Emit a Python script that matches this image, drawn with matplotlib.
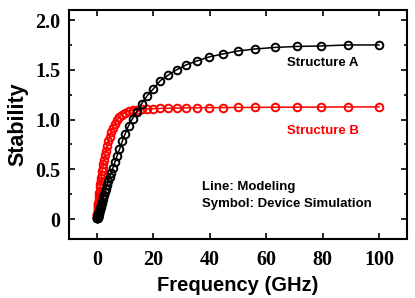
import matplotlib
matplotlib.use("Agg")
import matplotlib.pyplot as plt
from matplotlib.ticker import MultipleLocator, FixedLocator, FixedFormatter

# frequency sweep (GHz), 20 points per decade
freq = [0.100, 0.112, 0.126, 0.141, 0.158, 0.178, 0.200, 0.224, 0.251, 0.282,
        0.316, 0.355, 0.398, 0.447, 0.501, 0.562, 0.631, 0.708, 0.794, 0.891,
        1.00, 1.12, 1.26, 1.41, 1.58, 1.78, 2.00, 2.24, 2.51, 2.82,
        3.16, 3.55, 3.98, 4.47, 5.01, 5.62, 6.31, 7.08, 7.94, 8.91,
        10.0, 11.2, 12.6, 14.1, 15.8, 17.8, 20.0, 22.4, 25.1, 28.2,
        31.6, 35.5, 39.8, 44.7, 50.1, 56.2, 63.1, 70.8, 79.4, 89.1, 100.0]

# Structure A stability
stab_a = [0.010, 0.011, 0.013, 0.014, 0.016, 0.018, 0.020, 0.022, 0.025, 0.028,
          0.032, 0.035, 0.040, 0.045, 0.050, 0.056, 0.063, 0.071, 0.079, 0.089,
          0.100, 0.112, 0.125, 0.140, 0.157, 0.176, 0.197, 0.220, 0.245, 0.275,
          0.305, 0.340, 0.378, 0.420, 0.465, 0.515, 0.570, 0.635, 0.700, 0.780,
          0.860, 0.940, 1.010, 1.080, 1.160, 1.240, 1.310, 1.390, 1.445, 1.500,
          1.550, 1.590, 1.630, 1.660, 1.690, 1.710, 1.725, 1.735, 1.740, 1.750, 1.750]

# Structure B stability
stab_b = [0.033, 0.037, 0.042, 0.047, 0.052, 0.059, 0.066, 0.074, 0.083, 0.093,
          0.104, 0.117, 0.131, 0.147, 0.165, 0.185, 0.207, 0.232, 0.258, 0.287,
          0.320, 0.350, 0.380, 0.410, 0.440, 0.480, 0.515, 0.555, 0.595, 0.640,
          0.685, 0.730, 0.780, 0.830, 0.875, 0.920, 0.960, 0.995, 1.025, 1.050,
          1.070, 1.085, 1.095, 1.100, 1.105, 1.108, 1.110, 1.112, 1.114, 1.116,
          1.118, 1.119, 1.120, 1.121, 1.122, 1.123, 1.124, 1.125, 1.126, 1.127, 1.128]

xticks = [0, 20, 40, 60, 80, 100]
yticks = [0, 0.5, 1.0, 1.5, 2.0]
ytick_labels = ["0", "0.5", "1.0", "1.5", "2.0"]

fig = plt.figure(figsize=(4.15, 2.98), dpi=100)
ax = fig.add_axes([0.166, 0.198, 0.815, 0.768])

ax.plot(freq, stab_b, color="red", lw=1.1, marker="o", ms=5.5, mfc="none", mec="red", mew=1.4)
ax.plot(freq, stab_a, color="black", lw=1.1, marker="o", ms=5.5, mfc="none", mec="black", mew=1.4)

ax.set_xlim(-10, 110)
ax.set_ylim(-0.2, 2.1)
ax.xaxis.set_major_locator(FixedLocator(xticks))
ax.yaxis.set_major_locator(FixedLocator(yticks))
ax.yaxis.set_major_formatter(FixedFormatter(ytick_labels))
ax.yaxis.set_minor_locator(MultipleLocator(0.25))

ax.tick_params(which="both", direction="in", top=True, right=True, width=1.2)
ax.tick_params(which="major", length=4)
ax.tick_params(which="minor", length=2.5)
ax.tick_params(axis="x", pad=8)
ax.tick_params(axis="y", pad=6)
for s in ax.spines.values():
    s.set_linewidth(1.5)

for lab in ax.get_xticklabels() + ax.get_yticklabels():
    lab.set_family("Liberation Serif")
    lab.set_fontweight("bold")
    lab.set_fontsize(14.5)

ax.set_xlabel("Frequency (GHz)", family="Liberation Sans", fontweight="bold", fontsize=14.5, labelpad=4)
ax.set_ylabel("Stability", family="Liberation Sans", fontweight="bold", fontsize=15.5, labelpad=5)

tkw = dict(family="Liberation Sans", fontweight="bold", fontsize=9.5, va="center")
ax.text(67.3, 1.565, "Structure A", color="black", **tkw)
ax.text(67.3, 0.886, "Structure B", color="red", **tkw)
ax.text(37.1, 0.318, "Line: Modeling", color="black", **tkw)
ax.text(37.1, 0.150, "Symbol: Device Simulation", color="black", **tkw)

fig.savefig("out.png", dpi=100)
